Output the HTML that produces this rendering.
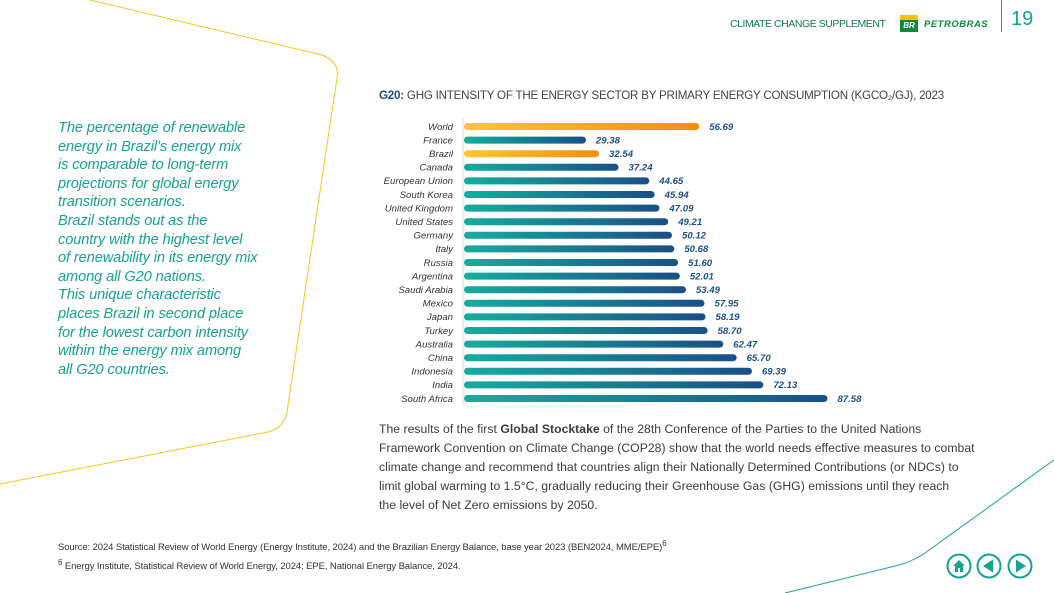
<!DOCTYPE html>
<html><head><meta charset="utf-8"><style>
body{margin:0;width:1054px;height:593px;background:#fff;position:relative;overflow:hidden;font-family:"Liberation Sans",sans-serif}
.abs{position:absolute;white-space:nowrap}
.side{left:58px;top:119px;color:#14a38f;font-style:italic;font-size:14.6px;line-height:18.6px;letter-spacing:-0.1px}
.body{left:379px;top:420px;color:#3c3c3c;font-size:12.2px;line-height:19px;letter-spacing:0.03px}
.src{left:58px;top:536px;font-size:9.5px;color:#333;line-height:15px;letter-spacing:-0.1px}
</style></head><body>
<svg class="abs" style="left:0;top:0" width="1054" height="593">
<path d="M90 0 L322 55 Q340 62 337 78 L287 412 Q284 428 268 432 L0 484" fill="none" stroke="#f3c623" stroke-width="1"/>
<path d="M1054 460 L925 553 Q910 563 895 566 L785 593" fill="none" stroke="#14a38f" stroke-width="1"/>
</svg>
<div class="abs" style="left:730px;top:18px;font-size:10.5px;color:#0f7a4d;letter-spacing:-0.45px">CLIMATE CHANGE SUPPLEMENT</div>
<div class="abs" style="left:900px;top:15px;width:18px;height:17px;background:#0a8a3a"><div style="height:5px;background:#f5c400"></div><div style="color:#fff;font-size:8px;font-weight:bold;font-style:italic;text-align:center;line-height:11px">BR</div></div>
<div class="abs" style="left:924px;top:19px;font-size:9.5px;font-weight:bold;font-style:italic;color:#0a8a3a;letter-spacing:0.5px">PETROBRAS</div>
<div class="abs" style="left:1001px;top:0;width:1px;height:32px;background:#14a38f"></div>
<div class="abs" style="left:1011px;top:8px;font-size:20px;color:#14a38f">19</div>
<div class="abs side">The percentage of renewable<br>energy in Brazil’s energy mix<br>is comparable to long-term<br>projections for global energy<br>transition scenarios.<br>Brazil stands out as the<br>country with the highest level<br>of renewability in its energy mix<br>among all G20 nations.<br>This unique characteristic<br>places Brazil in second place<br>for the lowest carbon intensity<br>within the energy mix among<br>all G20 countries.</div>
<div class="abs" style="left:379px;top:89px;font-size:11.6px;color:#444;letter-spacing:-0.22px"><b style="color:#1d4f7a">G20:</b> GHG INTENSITY OF THE ENERGY SECTOR BY PRIMARY ENERGY CONSUMPTION (KGCO₂/GJ), 2023</div>
<svg id="chart" class="abs" style="left:0;top:0" width="1054" height="420">
<defs>
<linearGradient id="gb" x1="0" x2="1"><stop offset="0" stop-color="#15ad9e"/><stop offset="1" stop-color="#1a4f86"/></linearGradient>
<linearGradient id="gy" x1="0" x2="1"><stop offset="0" stop-color="#fcc733"/><stop offset="1" stop-color="#ef8f12"/></linearGradient>
</defs>
<line x1="463" y1="118" x2="463" y2="405" stroke="#ddd" stroke-width="1"/>
</svg>
<script>
const categories=["World","France","Brazil","Canada","European Union","South Korea","United Kingdom","United States","Germany","Italy","Russia","Argentina","Saudi Arabia","Mexico","Japan","Turkey","Australia","China","Indonesia","India","South Africa"];
const values=[56.69,29.38,32.54,37.24,44.65,45.94,47.09,49.21,50.12,50.68,51.60,52.01,53.49,57.95,58.19,58.70,62.47,65.70,69.39,72.13,87.58];
const highlighted=["World","Brazil"];
const svg=document.getElementById('chart');const NS='http://www.w3.org/2000/svg';
const x0=464,k=4.15,y0=126.5,step=13.6;
const xs=v=>x0+v*k, ys=i=>y0+i*step;
categories.forEach((c,i)=>{
 const y=ys(i),x1=xs(values[i]);
 const b=document.createElementNS(NS,'rect');
 b.setAttribute('x',x0);b.setAttribute('y',y-3.5);b.setAttribute('width',x1-x0);b.setAttribute('height',7);b.setAttribute('rx',3.5);
 b.setAttribute('fill',highlighted.includes(c)?'url(#gy)':'url(#gb)');
 
 
 svg.appendChild(b);
 const l=document.createElementNS(NS,'text');
 l.setAttribute('x',453);l.setAttribute('y',y+3.3);l.setAttribute('text-anchor','end');l.setAttribute('font-size','9.6');l.setAttribute('font-style','italic');l.setAttribute('fill','#333');
 l.textContent=c;
 
 
 svg.appendChild(l);
 const t=document.createElementNS(NS,'text');
 t.setAttribute('x',x1+10);t.setAttribute('y',y+3.3);t.setAttribute('font-size','9.6');t.setAttribute('font-style','italic');t.setAttribute('font-weight','bold');t.setAttribute('fill','#1d4f86');
 t.textContent=values[i].toFixed(2);
 
 
 svg.appendChild(t);
});
</script>
<div class="abs body">The results of the first <b>Global Stocktake</b> of the 28th Conference of the Parties to the United Nations<br>Framework Convention on Climate Change (COP28) show that the world needs effective measures to combat<br>climate change and recommend that countries align their Nationally Determined Contributions (or NDCs) to<br>limit global warming to 1.5°C, gradually reducing their Greenhouse Gas (GHG) emissions until they reach<br>the level of Net Zero emissions by 2050.</div>
<div class="abs src">Source: 2024 Statistical Review of World Energy (Energy Institute, 2024) and the Brazilian Energy Balance, base year 2023 (BEN2024, MME/EPE)<sup>6</sup><br><sup>6</sup> Energy Institute, Statistical Review of World Energy, 2024; EPE, National Energy Balance, 2024.</div>
<svg class="abs" style="left:945px;top:553px" width="90" height="27">
<g><circle cx="14" cy="13" r="11.5" fill="none" stroke="#14a38f" stroke-width="2"/><path d="M8 13 L14 7 L20 13 L18 13 L18 19 L10 19 L10 13Z" fill="#14a38f"/><rect x="13" y="15" width="2" height="4" fill="#fff"/></g>
<g><circle cx="44" cy="13" r="11.5" fill="none" stroke="#14a38f" stroke-width="2"/><path d="M38 13 L48 6.5 L48 19.5Z" fill="#14a38f"/></g>
<g><circle cx="75" cy="13" r="11.5" fill="none" stroke="#14a38f" stroke-width="2"/><path d="M81 13 L71 6.5 L71 19.5Z" fill="#14a38f"/></g>
</svg>
</body></html>
